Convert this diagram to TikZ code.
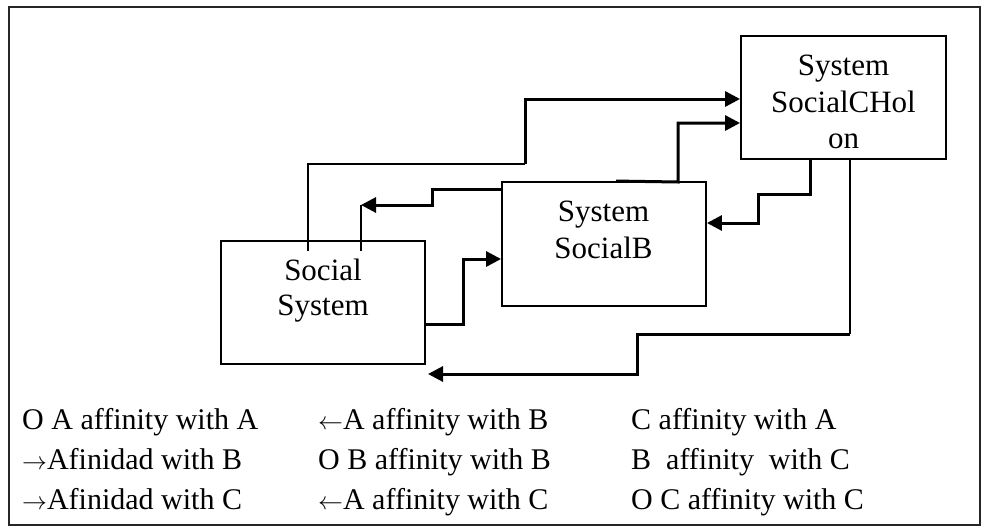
\documentclass[tikz,border=0pt]{standalone}
\usepackage{fontspec}
\setmainfont{Liberation Serif}
\usetikzlibrary{arrows.meta}
\tikzset{
  frame/.style={draw=black!85, line width=1.9pt},
  box/.style={draw, line width=1.9pt, inner sep=0pt, fill=none},
  lbl/.style={inner sep=0pt, anchor=base, font=\fontsize{31}{37}\selectfont},
  leg/.style={inner sep=0pt, anchor=base west, font=\fontsize{30}{36}\selectfont},
  conn/.style={line width=3pt},
  thin/.style={line width=1.8pt},
  tip/.style={-{Triangle[length=15pt,width=15pt]}}
}
\begin{document}
\begin{tikzpicture}[x=1pt,y=-1pt]
\useasboundingbox (0,0) rectangle (984,527);
\draw[frame] (9,7) rectangle (980,525);
% boxes
\node[box, minimum width=204pt, minimum height=123pt] (A) at (323,302.5) {};
\node[box, minimum width=204pt, minimum height=124pt] (B) at (604,244) {};
\node[box, minimum width=205pt, minimum height=123pt] (C) at (843.5,97.5) {};
% box texts
\node[lbl] (A1) at (323,280) {Social};
\node[lbl] (A2) at (323,315) {System};
\node[lbl] (B1) at (603.5,221) {System};
\node[lbl] (B2) at (603.5,258) {SocialB};
\node[lbl] (C1) at (843.5,75) {System};
\node[lbl] (C2) at (843.5,112.5) {SocialCHol};
\node[lbl] (C3) at (843.5,148.5) {on};
% free-end coordinates
\coordinate (a1) at (308,251);
\coordinate (a2) at (361,251);
\coordinate (bt) at (361,205);
\coordinate (ab) at (428,374);
% connector 1: A -> C (upper)
\draw[thin] (a1) -- (308,164) -- (525,164);
\draw[conn,tip] (525,164) -- (525,99) -- (C.west |- 0,99);
% connector 2: B -> A
\draw[conn,tip] (B.west |- 0,189) -- (432,189) -- (432,205) -- (bt);
\draw[thin] (bt) -- (a2);
% connector 3: B -> C (lower)
\draw[conn,tip] (B.north -| 616,0) -- (678,182) -- (678,123) -- (C.west |- 0,123);
% connector 4: A -> B
\draw[conn,tip] (A.east |- 0,324) -- (463,324) -- (463,259) -- (B.west |- 0,259);
% connector 5: C -> B
\draw[conn,tip] (C.south -| 810,0) -- (810,194) -- (758,194) -- (758,223) -- (B.east |- 0,223);
% connector 6: C -> below A
\draw[thin] (C.south -| 850,0) -- (850,334);
\draw[conn,tip] (850,334) -- (637,334) -- (637,374) -- (ab);
% legend
\node[leg] (L11) at (22,429) {O A affinity with A};
\node[leg] (L21) at (22,469) {$\rightarrow$Afinidad with B};
\node[leg] (L31) at (22,509) {$\rightarrow$Afinidad with C};
\node[leg] (L12) at (318,429) {$\leftarrow$A affinity with B};
\node[leg] (L22) at (318,469) {O B affinity with B};
\node[leg] (L32) at (318,509) {$\leftarrow$A affinity with C};
\node[leg] (L13) at (631,429) {C affinity with A};
\node[leg] (L23) at (631,469) {B\ \ affinity\ \ with C};
\node[leg] (L33) at (631,509) {O C affinity with C};
\end{tikzpicture}
\end{document}
